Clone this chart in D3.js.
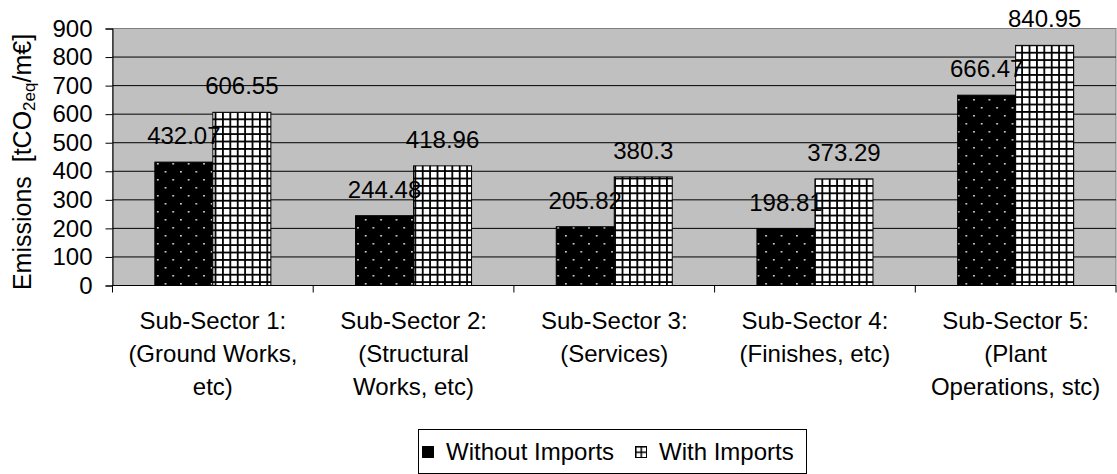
<!DOCTYPE html>
<html>
<head>
<meta charset="utf-8">
<script src="https://cdn.jsdelivr.net/npm/d3@7"></script>
<style>
  html, body { margin: 0; padding: 0; background: #fff; }
  svg { display: block; }
  text { font-family: "Liberation Sans", Arial, sans-serif; fill: #000; }
</style>
</head>
<body>
<svg id="chart" width="1117" height="474"></svg>
<script>
// ---- data ----
const categories = ["Sub-Sector 1", "Sub-Sector 2", "Sub-Sector 3", "Sub-Sector 4", "Sub-Sector 5"];
const categoryLabels = [
  ["Sub-Sector 1:", "(Ground Works,", "etc)"],
  ["Sub-Sector 2:", "(Structural", "Works, etc)"],
  ["Sub-Sector 3:", "(Services)"],
  ["Sub-Sector 4:", "(Finishes, etc)"],
  ["Sub-Sector 5:", "(Plant", "Operations, stc)"]
];
const seriesNames = ["Without Imports", "With Imports"];
const withoutImports = [432.07, 244.48, 205.82, 198.81, 666.47];
const withImports = [606.55, 418.96, 380.3, 373.29, 840.95];
const yTicks = [0, 100, 200, 300, 400, 500, 600, 700, 800, 900];

// ---- layout ----
const svg = d3.select("#chart");
const plot = { left: 112.5, right: 1116, top: 28.5, bottom: 285.5 };
const FS = 24;

const defs = svg.append("defs");
const dots = defs.append("pattern").attr("id", "dots").attr("patternUnits", "userSpaceOnUse")
  .attr("width", 15.4).attr("height", 16);
dots.append("rect").attr("width", 15.4).attr("height", 16).attr("fill", "#000");
dots.append("rect").attr("x", 3).attr("y", 3).attr("width", 1.6).attr("height", 1.6).attr("fill", "#e8e8e8");
dots.append("rect").attr("x", 10.7).attr("y", 11).attr("width", 1.6).attr("height", 1.6).attr("fill", "#e8e8e8");

const grid = defs.append("pattern").attr("id", "grid").attr("patternUnits", "userSpaceOnUse")
  .attr("width", 7.4).attr("height", 7.4);
grid.append("rect").attr("width", 7.4).attr("height", 7.4).attr("fill", "#fff");
grid.append("rect").attr("x", 0).attr("y", 0).attr("width", 1.8).attr("height", 7.4).attr("fill", "#000");
grid.append("rect").attr("x", 0).attr("y", 0).attr("width", 7.4).attr("height", 1.8).attr("fill", "#000");

const legGrid = defs.append("pattern").attr("id", "leggrid").attr("patternUnits", "userSpaceOnUse")
  .attr("x", 635).attr("y", 446).attr("width", 5.5).attr("height", 5.5);
legGrid.append("rect").attr("width", 5.5).attr("height", 5.5).attr("fill", "#fff");
legGrid.append("rect").attr("width", 1.5).attr("height", 5.5).attr("fill", "#000");
legGrid.append("rect").attr("width", 5.5).attr("height", 1.5).attr("fill", "#000");

const fills = ["url(#dots)", "url(#grid)"];
const legFills = ["url(#dots)", "url(#leggrid)"];

const x0 = d3.scaleBand().domain(categories).range([plot.left, plot.right]).padding(0);
const x1 = d3.scaleBand().domain(seriesNames).range([0, x0.bandwidth()]).paddingInner(0).paddingOuter(0.73);
const y = d3.scaleLinear().domain([0, 900]).range([plot.bottom, plot.top]);

// plot background
svg.append("rect").attr("x", plot.left).attr("y", plot.top)
  .attr("width", plot.right - plot.left).attr("height", plot.bottom - plot.top)
  .attr("fill", "#c0c0c0").attr("stroke", "#808080").attr("stroke-width", 1);

// gridlines
svg.append("g").selectAll("line").data(yTicks.filter(d => d > 0 && d < 900)).join("line")
  .attr("x1", plot.left).attr("x2", plot.right)
  .attr("y1", d => y(d)).attr("y2", d => y(d))
  .attr("stroke", "#000").attr("stroke-width", 1);

// bars
const series = [withoutImports, withImports];
const g = svg.append("g");
categories.forEach((c, i) => {
  seriesNames.forEach((s, j) => {
    const v = series[j][i];
    const bx = x0(c) + x1(s);
    g.append("rect")
      .attr("x", bx).attr("y", y(v))
      .attr("width", x1.bandwidth()).attr("height", y(0) - y(v))
      .attr("fill", fills[j]).attr("stroke", "#000").attr("stroke-width", 1);
  });
});
// value labels (drawn after all bars)
categories.forEach((c, i) => {
  seriesNames.forEach((s, j) => {
    const v = series[j][i];
    const bx = x0(c) + x1(s);
    svg.append("text")
      .attr("x", bx + x1.bandwidth() / 2).attr("y", y(v) - 18)
      .attr("text-anchor", "middle").attr("font-size", FS)
      .text(String(v));
  });
});

// y axis
const yAxis = d3.axisLeft(y).tickValues(yTicks).tickSize(7).tickPadding(13).tickFormat(d3.format("d"));
const ya = svg.append("g").attr("transform", `translate(${plot.left},0)`).call(yAxis);
ya.select(".domain").attr("stroke", "#000");
ya.selectAll(".tick line").attr("stroke", "#000");
ya.selectAll(".tick text").attr("font-size", FS).attr("font-family", '"Liberation Sans", Arial, sans-serif').attr("fill", "#000");

// x axis
const xTickPos = d3.range(categories.length + 1).map(i => plot.left + i * x0.step());
const xa = svg.append("g");
xa.append("line").attr("x1", plot.left).attr("x2", plot.right).attr("y1", plot.bottom).attr("y2", plot.bottom).attr("stroke", "#000");
xa.selectAll("line.tk").data(xTickPos).join("line").attr("class", "tk")
  .attr("x1", d => d).attr("x2", d => d).attr("y1", plot.bottom).attr("y2", plot.bottom + 7).attr("stroke", "#000");
categories.forEach((c, i) => {
  const t = svg.append("text").attr("text-anchor", "middle").attr("font-size", FS)
    .attr("x", x0(c) + x0.bandwidth() / 2).attr("y", 329);
  categoryLabels[i].forEach((line, k) => {
    t.append("tspan").attr("x", x0(c) + x0.bandwidth() / 2).attr("y", 329 + k * 33).text(line);
  });
});

// y title
const yt = svg.append("text").attr("transform", "translate(31,162) rotate(-90)")
  .attr("text-anchor", "middle").attr("font-size", 25).style("white-space", "pre");
yt.append("tspan").text("Emissions  [tCO");
yt.append("tspan").attr("font-size", 17).attr("dy", 4).text("2eq");
yt.append("tspan").attr("dy", -4).text("/m€]");

// legend
const leg = svg.append("g");
const lx = 418, ly = 429, lw = 388, lh = 44;
leg.append("rect").attr("x", lx + 0.5).attr("y", ly + 0.5).attr("width", lw).attr("height", lh)
  .attr("fill", "#fff").attr("stroke", "#000").attr("stroke-width", 1);
const markerX = [422, 635];
const textX = [446, 659];
seriesNames.forEach((s, j) => {
  leg.append("rect").attr("x", markerX[j] + 0.5).attr("y", ly + 17.5).attr("width", 11).attr("height", 11)
    .attr("fill", legFills[j]).attr("stroke", "#000").attr("stroke-width", 1);
  leg.append("text").attr("x", textX[j]).attr("y", ly + 31).attr("font-size", FS).text(s);
});
</script>
</body>
</html>
